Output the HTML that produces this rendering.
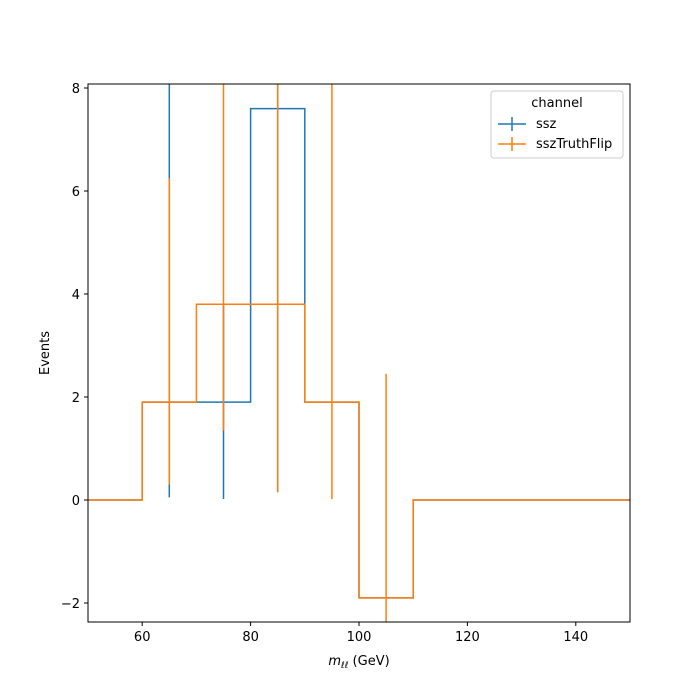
<!DOCTYPE html>
<html><head><meta charset="utf-8"><style>
html,body{margin:0;background:#fff;overflow:hidden}
svg{display:block}
svg text{font-family:"DejaVu Sans","Liberation Sans",sans-serif;font-size:13px;fill:#000}
</style></head><body>
<svg width="700" height="700" xmlns="http://www.w3.org/2000/svg">
<defs><clipPath id="c"><rect x="88" y="84" width="542" height="538"/></clipPath></defs>
<g id="plot" clip-path="url(#c)"></g>
<rect x="88" y="84" width="542" height="538" fill="none" stroke="#000" stroke-width="1"/>
<g id="axes"></g>
<text x="359" y="665" text-anchor="middle"><tspan font-style="italic">m</tspan><tspan font-style="italic" font-size="9" dy="3">ℓℓ</tspan><tspan dy="-3"> (GeV)</tspan></text>
<text transform="translate(49,353) rotate(-90)" text-anchor="middle">Events</text>
<g>
<rect x="491" y="91" width="132" height="67" rx="3" fill="#fff" stroke="#ccc"/>
<text x="557" y="107" text-anchor="middle">channel</text>
<line x1="498" y1="124" x2="526" y2="124" stroke="#1f77b4" stroke-width="1.5"/><line x1="512" y1="117" x2="512" y2="131" stroke="#1f77b4" stroke-width="1.5"/>
<text x="536" y="128">ssz</text>
<line x1="498" y1="144" x2="526" y2="144" stroke="#ff7f0e" stroke-width="1.5"/><line x1="512" y1="137" x2="512" y2="151" stroke="#ff7f0e" stroke-width="1.5"/>
<text x="536" y="148">sszTruthFlip</text>
</g>
</svg>
<script>
const binEdges=[50,60,70,80,90,100,110,120,130,140,150];
const sszValues=[0,1.9,1.9,7.6,1.9,-1.9,0,0,0,0];
const flipValues=[0,1.9,3.8,3.8,1.9,-1.9,0,0,0,0];
const sszErrCenters=[65,75,85];
const sszErrLow=[0.05,0.02,0.15];
const sszErrHigh=[10,3.78,10];
const flipErrCenters=[65,75,85,95,105];
const flipErrLow=[0.3,1.35,0.15,0.02,-3];
const flipErrHigh=[6.25,10,10,10,2.45];
const xTicks=[60,80,100,120,140];
const yTicks=[-2,0,2,4,6,8];
const X=v=>88+(v-50)*5.42;
const Y=v=>500-v*51.5;
const NS="http://www.w3.org/2000/svg";
const plot=document.getElementById('plot'),axes=document.getElementById('axes');
function mk(p,t,a){const e=document.createElementNS(NS,t);for(const k in a)e.setAttribute(k,a[k]);p.appendChild(e);return e;}
function series(vals,lo,hi,cen,col,name){
 let d='M'+X(binEdges[0])+','+Y(vals[0]);
 for(let i=0;i<vals.length;i++){d+=' L'+X(binEdges[i])+','+Y(vals[i])+' L'+X(binEdges[i+1])+','+Y(vals[i]);}
 const p=mk(plot,'path',{d:d,fill:'none',stroke:col,'stroke-width':1.5});
 
 
 cen.forEach((c,i)=>{const l=mk(plot,'line',{x1:X(c),x2:X(c),y1:Y(lo[i]),y2:Y(hi[i]),stroke:col,'stroke-width':1.5});
  
  });
}
series(sszValues,sszErrLow,sszErrHigh,sszErrCenters,'#1f77b4','ssz');
series(flipValues,flipErrLow,flipErrHigh,flipErrCenters,'#ff7f0e','ssztruthflip');
xTicks.forEach(t=>{mk(axes,'line',{x1:X(t),x2:X(t),y1:622,y2:626,stroke:'#000'});
 const e=mk(axes,'text',{x:X(t),y:641,'text-anchor':'middle'});e.textContent=t;
 
 });
yTicks.forEach(t=>{mk(axes,'line',{x1:84,x2:88,y1:Y(t),y2:Y(t),stroke:'#000'});
 const e=mk(axes,'text',{x:80,y:Y(t)+5,'text-anchor':'end'});e.textContent=t<0?'\u2212'+(-t):t;
 
 });
</script>
</body></html>
